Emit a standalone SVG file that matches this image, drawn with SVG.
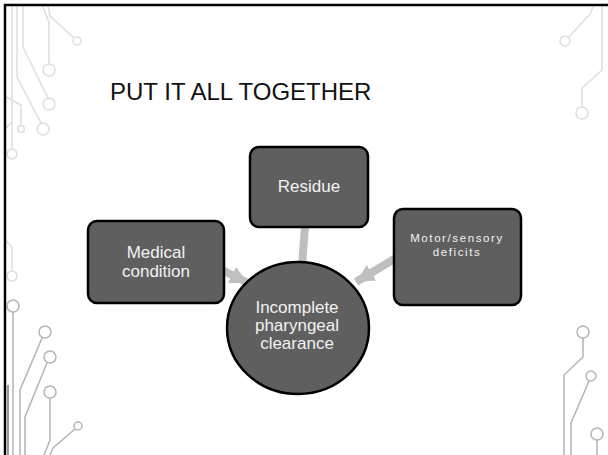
<svg xmlns="http://www.w3.org/2000/svg" width="608" height="455" viewBox="0 0 608 455">
  <style>
    .trace-lt { fill: none; stroke: #dedede; stroke-width: 1.5; }
    .trace-dk { fill: none; stroke: #b4b4b4; stroke-width: 1.5; }
    .node { fill: #5f5f5f; stroke: #000; stroke-width: 2.5; }
    .label { fill: #f2f2f2; font-family: "Liberation Sans", Arial, sans-serif; text-anchor: middle; }
    .conn { stroke: #bfbfbf; stroke-width: 8; fill: none; }
    .title { fill: #111; font-family: "Liberation Sans", Arial, sans-serif; font-size: 24px; }
  </style>
  <defs>
    <marker id="head" viewBox="0 0 10 10" refX="10" refY="5" markerWidth="18" markerHeight="18" markerUnits="userSpaceOnUse" orient="auto">
      <path d="M0,0 L10,5 L0,10 Z" fill="#bfbfbf"/>
    </marker>
  </defs>

  <rect x="0" y="0" width="608" height="455" fill="#ffffff"/>

  <!-- circuit traces, top left -->
  <g id="traces-top-left">
    <path class="trace-lt" d="M12,5 V149"/>
    <circle class="trace-lt" cx="12" cy="154" r="5"/>
    <path class="trace-lt" d="M17,5 V77 L41,123"/>
    <circle class="trace-lt" cx="43" cy="129" r="6"/>
    <path class="trace-lt" d="M23,5 V47 L48,98"/>
    <circle class="trace-lt" cx="49" cy="104" r="6"/>
    <path class="trace-lt" d="M42,5 L49,22 V64"/>
    <circle class="trace-lt" cx="49" cy="70" r="6"/>
    <path class="trace-lt" d="M48,5 L50,16 L74,38"/>
    <circle class="trace-lt" cx="77" cy="41" r="4"/>
    <path class="trace-lt" d="M6,97 L21,105 V126"/>
    <circle class="trace-lt" cx="21" cy="129" r="3.3"/>
    <path class="trace-lt" d="M6,128 L12,122"/>
  </g>

  <!-- circuit traces, left middle -->
  <g id="traces-left">
    <path class="trace-lt" d="M5,240 L12,247 V271"/>
    <circle class="trace-lt" cx="12" cy="276" r="5"/>
  </g>

  <!-- circuit traces, bottom left -->
  <g id="traces-bottom-left">
    <circle class="trace-dk" cx="13" cy="306" r="6"/>
    <path class="trace-dk" d="M13,312 V455"/>
    <circle class="trace-dk" cx="45" cy="332" r="6"/>
    <path class="trace-dk" d="M42,338 L20,390 V455"/>
    <circle class="trace-dk" cx="50" cy="357" r="6"/>
    <path class="trace-dk" d="M47,363 L25,417 V455"/>
    <circle class="trace-dk" cx="50" cy="392" r="6"/>
    <path class="trace-dk" d="M50,398 V440 L44,455"/>
    <circle class="trace-dk" cx="78" cy="426" r="4"/>
    <path class="trace-dk" d="M75,429 L53,448 L50,455"/>
    <path d="M8,385 V455" stroke="#9a9a9a" stroke-width="2" fill="none"/>
  </g>

  <!-- circuit traces, top right -->
  <g id="traces-top-right">
    <path class="trace-lt" d="M593,7 L590,14 L569,37"/>
    <circle class="trace-lt" cx="565" cy="41" r="5"/>
    <path class="trace-lt" d="M602,5 V70 L582,88 V107"/>
    <circle class="trace-lt" cx="582" cy="113" r="6"/>
  </g>

  <!-- circuit traces, bottom right -->
  <g id="traces-bottom-right">
    <circle class="trace-dk" cx="583" cy="332" r="6"/>
    <path class="trace-dk" d="M583,338 V357 L564,375 V455"/>
    <circle class="trace-dk" cx="591" cy="376" r="5"/>
    <path class="trace-dk" d="M589,381 L571,423 V455"/>
    <circle class="trace-dk" cx="597" cy="434" r="6"/>
    <path class="trace-dk" d="M597,440 V455"/>
  </g>

  <!-- slide frame -->
  <path d="M5,455 V5 H608" fill="none" stroke="#000" stroke-width="2.5"/>

  <text class="title" x="110" y="100">PUT IT ALL TOGETHER</text>

  <!-- connectors -->
  <g id="connectors">
    <line class="conn" x1="305" y1="226" x2="302" y2="266"/>
    <line class="conn" x1="222" y1="270" x2="248" y2="283" marker-end="url(#head)"/>
    <line class="conn" x1="396" y1="258" x2="356" y2="282" marker-end="url(#head)"/>
  </g>

  <g id="node-residue">
    <rect class="node" x="250" y="147" width="118" height="80" rx="9"/>
    <text class="label" x="309" y="192" font-size="17">Residue</text>
  </g>

  <g id="node-medical">
    <rect class="node" x="88" y="221" width="136" height="82" rx="9"/>
    <text class="label" x="156" y="258" font-size="17">Medical</text>
    <text class="label" x="156" y="277" font-size="17">condition</text>
  </g>

  <g id="node-motor">
    <rect class="node" x="394" y="209" width="127" height="96" rx="9"/>
    <text class="label" x="457" y="242" font-size="11.5" letter-spacing="1.6">Motor/sensory</text>
    <text class="label" x="457" y="256" font-size="11.5" letter-spacing="1.6">deficits</text>
  </g>

  <g id="node-clearance">
    <ellipse class="node" cx="298" cy="328" rx="71" ry="66"/>
    <text class="label" x="297" y="313" font-size="17">Incomplete</text>
    <text class="label" x="297" y="331" font-size="17">pharyngeal</text>
    <text class="label" x="297" y="349" font-size="17">clearance</text>
  </g>
</svg>
